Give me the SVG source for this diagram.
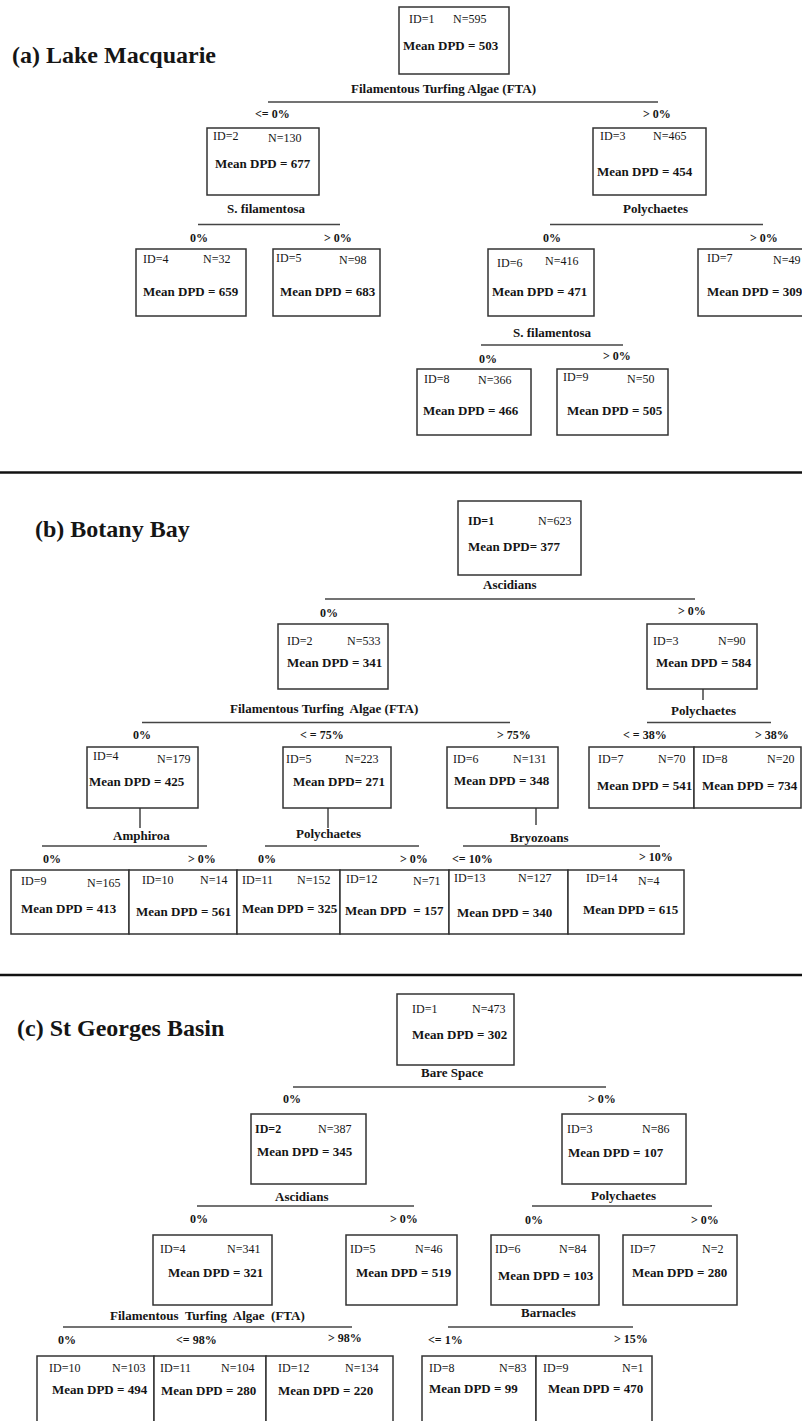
<svg xmlns="http://www.w3.org/2000/svg" width="802" height="1421" viewBox="0 0 802 1421">
<style>
text{font-family:"Liberation Serif","Times New Roman",serif;fill:#151515}
.title{font-size:24px;font-weight:bold}
.id{font-size:12px}
.idb{font-size:12px;font-weight:bold}
.m{font-size:13px;font-weight:bold}
.lbl{font-size:13px;font-weight:bold;white-space:pre}
.thr{font-size:12px;font-weight:bold}
.box{fill:#fff;stroke:#333;stroke-width:1.5}
.ln{stroke:#444;stroke-width:1.5;fill:none}
.sep{stroke:#111;stroke-width:2.5}
</style>
<rect width="802" height="1421" fill="#fff"/>

<!-- separators -->
<line class="sep" x1="0" y1="472.5" x2="802" y2="472.5"/>
<line class="sep" x1="0" y1="975" x2="802" y2="975"/>

<!-- titles -->
<text class="title" x="12" y="63">(a) Lake Macquarie</text>
<text class="title" x="35" y="537">(b) Botany Bay</text>
<text class="title" x="17" y="1036">(c) St Georges Basin</text>

<g id="connectors">
  <!-- (a) -->
  <line class="ln" x1="268" y1="102" x2="658" y2="102"/>
  <line class="ln" x1="198" y1="224.5" x2="340" y2="224.5"/>
  <line class="ln" x1="550" y1="224.5" x2="763" y2="224.5"/>
  <line class="ln" x1="481" y1="345" x2="623" y2="345"/>
  <!-- (b) -->
  <line class="ln" x1="325" y1="599" x2="695" y2="599"/>
  <line class="ln" x1="703" y1="689" x2="703" y2="700"/>
  <line class="ln" x1="647" y1="722.5" x2="771" y2="722.5"/>
  <line class="ln" x1="142" y1="722.5" x2="510" y2="722.5"/>
  <line class="ln" x1="140" y1="808" x2="140" y2="828"/>
  <line class="ln" x1="328" y1="808" x2="328" y2="828"/>
  <line class="ln" x1="536" y1="808" x2="536" y2="825"/>
  <line class="ln" x1="42" y1="846" x2="207" y2="846"/>
  <line class="ln" x1="265" y1="846" x2="419" y2="846"/>
  <line class="ln" x1="463" y1="846" x2="660" y2="846"/>
  <!-- (c) -->
  <line class="ln" x1="293" y1="1087" x2="606" y2="1087"/>
  <line class="ln" x1="197" y1="1206" x2="414" y2="1206"/>
  <line class="ln" x1="532" y1="1206" x2="712" y2="1206"/>
  <line class="ln" x1="63" y1="1327" x2="352" y2="1327"/>
  <line class="ln" x1="448" y1="1327" x2="633" y2="1327"/>
</g>

<g id="split-labels">
  <!-- (a) -->
  <text class="lbl" x="351" y="93">Filamentous Turfing Algae (FTA)</text>
  <text class="thr" x="255" y="118">&lt;= 0%</text>
  <text class="thr" x="643" y="118">&gt; 0%</text>
  <text class="lbl" x="227" y="213">S. filamentosa</text>
  <text class="thr" x="190" y="242">0%</text>
  <text class="thr" x="324" y="242">&gt; 0%</text>
  <text class="lbl" x="623" y="213">Polychaetes</text>
  <text class="thr" x="543" y="242">0%</text>
  <text class="thr" x="750" y="242">&gt; 0%</text>
  <text class="lbl" x="513" y="337">S. filamentosa</text>
  <text class="thr" x="479" y="363">0%</text>
  <text class="thr" x="603" y="360">&gt; 0%</text>
  <!-- (b) -->
  <text class="lbl" x="483" y="589">Ascidians</text>
  <text class="thr" x="320" y="617">0%</text>
  <text class="thr" x="678" y="615">&gt; 0%</text>
  <text class="lbl" x="671" y="715">Polychaetes</text>
  <text class="thr" x="623" y="739">&lt; = 38%</text>
  <text class="thr" x="755" y="739">&gt; 38%</text>
  <text class="lbl" x="230" y="713">Filamentous Turfing  Algae (FTA)</text>
  <text class="thr" x="133" y="739">0%</text>
  <text class="thr" x="300" y="739">&lt; = 75%</text>
  <text class="thr" x="497" y="739">&gt; 75%</text>
  <text class="lbl" x="113" y="840">Amphiroa</text>
  <text class="thr" x="43" y="863">0%</text>
  <text class="thr" x="188" y="863">&gt; 0%</text>
  <text class="lbl" x="296" y="838">Polychaetes</text>
  <text class="thr" x="258" y="863">0%</text>
  <text class="thr" x="400" y="863">&gt; 0%</text>
  <text class="lbl" x="510" y="842">Bryozoans</text>
  <text class="thr" x="452" y="863">&lt;= 10%</text>
  <text class="thr" x="639" y="861">&gt; 10%</text>
  <!-- (c) -->
  <text class="lbl" x="421" y="1077">Bare Space</text>
  <text class="thr" x="283" y="1103">0%</text>
  <text class="thr" x="588" y="1103">&gt; 0%</text>
  <text class="lbl" x="275" y="1201">Ascidians</text>
  <text class="thr" x="190" y="1223">0%</text>
  <text class="thr" x="390" y="1223">&gt; 0%</text>
  <text class="lbl" x="591" y="1200">Polychaetes</text>
  <text class="thr" x="525" y="1224">0%</text>
  <text class="thr" x="691" y="1224">&gt; 0%</text>
  <text class="lbl" x="110" y="1320">Filamentous  Turfing  Algae  (FTA)</text>
  <text class="thr" x="58" y="1344">0%</text>
  <text class="thr" x="176" y="1344">&lt;= 98%</text>
  <text class="thr" x="328" y="1342">&gt; 98%</text>
  <text class="lbl" x="521" y="1317">Barnacles</text>
  <text class="thr" x="428" y="1344">&lt;= 1%</text>
  <text class="thr" x="614" y="1343">&gt; 15%</text>
</g>

<!-- (a) Lake Macquarie nodes -->
<g id="a-node1"><rect class="box" x="399" y="7" width="110" height="67"/>
  <text class="id" x="409" y="23">ID=1</text><text class="id" x="453" y="23">N=595</text>
  <text class="m" x="403" y="50">Mean DPD = 503</text></g>
<g id="a-node2"><rect class="box" x="207" y="128" width="112" height="67"/>
  <text class="id" x="213" y="140">ID=2</text><text class="id" x="268" y="142">N=130</text>
  <text class="m" x="215" y="168">Mean DPD = 677</text></g>
<g id="a-node3"><rect class="box" x="593" y="128" width="113" height="67"/>
  <text class="id" x="600" y="140">ID=3</text><text class="id" x="653" y="140">N=465</text>
  <text class="m" x="597" y="176">Mean DPD = 454</text></g>
<g id="a-node4"><rect class="box" x="136" y="249" width="110" height="67"/>
  <text class="id" x="143" y="263">ID=4</text><text class="id" x="203" y="263">N=32</text>
  <text class="m" x="143" y="296">Mean DPD = 659</text></g>
<g id="a-node5"><rect class="box" x="273" y="249" width="107" height="67"/>
  <text class="id" x="276" y="262">ID=5</text><text class="id" x="339" y="264">N=98</text>
  <text class="m" x="280" y="296">Mean DPD = 683</text></g>
<g id="a-node6"><rect class="box" x="488" y="249" width="106" height="67"/>
  <text class="id" x="497" y="267">ID=6</text><text class="id" x="545" y="265">N=416</text>
  <text class="m" x="492" y="296">Mean DPD = 471</text></g>
<g id="a-node7"><rect class="box" x="698" y="249" width="110" height="67"/>
  <text class="id" x="707" y="262">ID=7</text><text class="id" x="773" y="264">N=49</text>
  <text class="m" x="707" y="296">Mean DPD = 309</text></g>
<g id="a-node8"><rect class="box" x="417" y="369" width="114" height="66"/>
  <text class="id" x="424" y="383">ID=8</text><text class="id" x="478" y="384">N=366</text>
  <text class="m" x="423" y="415">Mean DPD = 466</text></g>
<g id="a-node9"><rect class="box" x="557" y="369" width="111" height="66"/>
  <text class="id" x="563" y="381">ID=9</text><text class="id" x="627" y="383">N=50</text>
  <text class="m" x="567" y="415">Mean DPD = 505</text></g>

<!-- (b) Botany Bay nodes -->
<g id="b-node1"><rect class="box" x="458" y="501" width="123" height="74"/>
  <text class="idb" x="468" y="525">ID=1</text><text class="id" x="538" y="525">N=623</text>
  <text class="m" x="468" y="551">Mean DPD= 377</text></g>
<g id="b-node2"><rect class="box" x="278" y="624" width="110" height="65"/>
  <text class="id" x="287" y="645">ID=2</text><text class="id" x="347" y="645">N=533</text>
  <text class="m" x="287" y="667">Mean DPD = 341</text></g>
<g id="b-node3"><rect class="box" x="647" y="624" width="110" height="65"/>
  <text class="id" x="653" y="645">ID=3</text><text class="id" x="718" y="645">N=90</text>
  <text class="m" x="656" y="667">Mean DPD = 584</text></g>
<g id="b-node4"><rect class="box" x="87" y="747" width="111" height="61"/>
  <text class="id" x="93" y="760">ID=4</text><text class="id" x="157" y="763">N=179</text>
  <text class="m" x="89" y="786">Mean DPD = 425</text></g>
<g id="b-node5"><rect class="box" x="283" y="747" width="108" height="61"/>
  <text class="id" x="286" y="763">ID=5</text><text class="id" x="345" y="763">N=223</text>
  <text class="m" x="293" y="786">Mean DPD= 271</text></g>
<g id="b-node6"><rect class="box" x="447" y="747" width="111" height="61"/>
  <text class="id" x="453" y="763">ID=6</text><text class="id" x="513" y="763">N=131</text>
  <text class="m" x="454" y="785">Mean DPD = 348</text></g>
<g id="b-node7"><rect class="box" x="589" y="747" width="105" height="61"/>
  <text class="id" x="598" y="763">ID=7</text><text class="id" x="658" y="763">N=70</text>
  <text class="m" x="597" y="790">Mean DPD = 541</text></g>
<g id="b-node8"><rect class="box" x="694" y="747" width="107" height="61"/>
  <text class="id" x="702" y="763">ID=8</text><text class="id" x="767" y="763">N=20</text>
  <text class="m" x="702" y="790">Mean DPD = 734</text></g>
<g id="b-node9"><rect class="box" x="11" y="870" width="118" height="64"/>
  <text class="id" x="21" y="885">ID=9</text><text class="id" x="87" y="887">N=165</text>
  <text class="m" x="21" y="913">Mean DPD = 413</text></g>
<g id="b-node10"><rect class="box" x="129" y="870" width="108" height="64"/>
  <text class="id" x="142" y="884">ID=10</text><text class="id" x="200" y="884">N=14</text>
  <text class="m" x="136" y="916">Mean DPD = 561</text></g>
<g id="b-node11"><rect class="box" x="237" y="870" width="103" height="64"/>
  <text class="id" x="242" y="884">ID=11</text><text class="id" x="297" y="884">N=152</text>
  <text class="m" x="242" y="913">Mean DPD = 325</text></g>
<g id="b-node12"><rect class="box" x="340" y="870" width="109" height="64"/>
  <text class="id" x="346" y="883">ID=12</text><text class="id" x="413" y="885">N=71</text>
  <text class="m" x="345" y="915" style="white-space:pre">Mean DPD  = 157</text></g>
<g id="b-node13"><rect class="box" x="449" y="870" width="119" height="64"/>
  <text class="id" x="454" y="882">ID=13</text><text class="id" x="518" y="882">N=127</text>
  <text class="m" x="457" y="917">Mean DPD = 340</text></g>
<g id="b-node14"><rect class="box" x="568" y="870" width="116" height="64"/>
  <text class="id" x="586" y="882">ID=14</text><text class="id" x="638" y="885">N=4</text>
  <text class="m" x="583" y="914">Mean DPD = 615</text></g>

<!-- (c) St Georges Basin nodes -->
<g id="c-node1"><rect class="box" x="397" y="994" width="117" height="71"/>
  <text class="id" x="412" y="1013">ID=1</text><text class="id" x="472" y="1013">N=473</text>
  <text class="m" x="412" y="1039">Mean DPD = 302</text></g>
<g id="c-node2"><rect class="box" x="251" y="1114" width="115" height="70"/>
  <text class="idb" x="255" y="1133">ID=2</text><text class="id" x="318" y="1133">N=387</text>
  <text class="m" x="257" y="1156">Mean DPD = 345</text></g>
<g id="c-node3"><rect class="box" x="562" y="1114" width="124" height="70"/>
  <text class="id" x="567" y="1133">ID=3</text><text class="id" x="642" y="1133">N=86</text>
  <text class="m" x="568" y="1157">Mean DPD = 107</text></g>
<g id="c-node4"><rect class="box" x="153" y="1235" width="119" height="70"/>
  <text class="id" x="160" y="1253">ID=4</text><text class="id" x="227" y="1253">N=341</text>
  <text class="m" x="168" y="1277">Mean DPD = 321</text></g>
<g id="c-node5"><rect class="box" x="346" y="1235" width="111" height="70"/>
  <text class="id" x="350" y="1253">ID=5</text><text class="id" x="415" y="1253">N=46</text>
  <text class="m" x="356" y="1277">Mean DPD = 519</text></g>
<g id="c-node6"><rect class="box" x="491" y="1235" width="108" height="70"/>
  <text class="id" x="495" y="1253">ID=6</text><text class="id" x="559" y="1253">N=84</text>
  <text class="m" x="498" y="1280">Mean DPD = 103</text></g>
<g id="c-node7"><rect class="box" x="623" y="1235" width="114" height="70"/>
  <text class="id" x="630" y="1253">ID=7</text><text class="id" x="702" y="1253">N=2</text>
  <text class="m" x="632" y="1277">Mean DPD = 280</text></g>
<g id="c-node8"><rect class="box" x="422" y="1356" width="114" height="80"/>
  <text class="id" x="429" y="1372">ID=8</text><text class="id" x="499" y="1372">N=83</text>
  <text class="m" x="429" y="1393">Mean DPD = 99</text></g>
<g id="c-node9"><rect class="box" x="536" y="1356" width="116" height="80"/>
  <text class="id" x="543" y="1372">ID=9</text><text class="id" x="622" y="1372">N=1</text>
  <text class="m" x="548" y="1393">Mean DPD = 470</text></g>
<g id="c-node10"><rect class="box" x="37" y="1356" width="117" height="80"/>
  <text class="id" x="49" y="1372">ID=10</text><text class="id" x="112" y="1372">N=103</text>
  <text class="m" x="52" y="1394">Mean DPD = 494</text></g>
<g id="c-node11"><rect class="box" x="154" y="1356" width="112" height="80"/>
  <text class="id" x="160" y="1372">ID=11</text><text class="id" x="221" y="1372">N=104</text>
  <text class="m" x="161" y="1395">Mean DPD = 280</text></g>
<g id="c-node12"><rect class="box" x="266" y="1356" width="127" height="80"/>
  <text class="id" x="278" y="1372">ID=12</text><text class="id" x="345" y="1372">N=134</text>
  <text class="m" x="278" y="1395">Mean DPD = 220</text></g>
</svg>
